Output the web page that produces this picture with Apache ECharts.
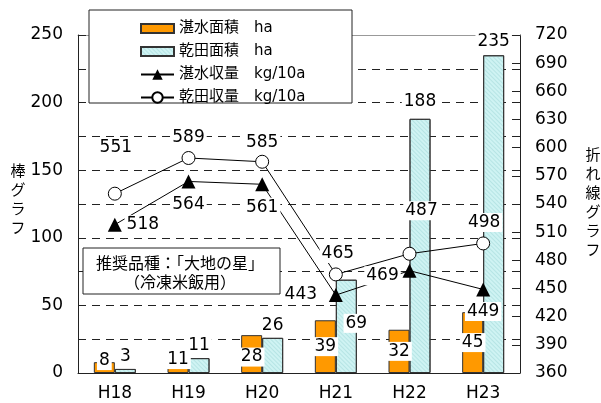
<!DOCTYPE html>
<html>
<head>
<meta charset="utf-8">
<script src="https://cdn.jsdelivr.net/npm/echarts@6/dist/echarts.min.js"></script>
<style>
  html, body { margin: 0; padding: 0; background: #fff; }
  #chart { width: 601px; height: 403px; }
</style>
</head>
<body>
<div id="chart"></div>
<script>
const categories = ['H18', 'H19', 'H20', 'H21', 'H22', 'H23']
const tansuiArea = [8, 11, 28, 39, 32, 45]
const kandenArea = [3, 11, 26, 69, 188, 235]
const tansuiYield = [518, 564, 561, 443, 469, 449]
const kandenYield = [551, 589, 585, 465, 487, 498]
const seriesNames = ['湛水面積　ha', '乾田面積　ha', '湛水収量　kg/10a', '乾田収量　kg/10a']
const barTicks = [0, 50, 100, 150, 200, 250]
const lineTicks = [360, 390, 420, 450, 480, 510, 540, 570, 600, 630, 660, 690, 720]

const FONT = 'Noto Sans CJK JP'
const NUM_FONT = '"DejaVu Sans", "Noto Sans CJK JP"'
const labelBase = {
  show: true,
  fontFamily: NUM_FONT,
  fontSize: 17,
  color: '#000',
  backgroundColor: '#fff',
  padding: [1, 2]
}

// label placement per point
const orangeOffsets = [[0, -7], [0, -6], [0, 3], [0, 0], [0, 0], [0, 0]]
const cyanPlace = [
  { position: 'top', distance: 3 },
  { position: 'top', distance: 3 },
  { position: 'top', distance: 3 },
  { position: 'inside', offset: [10, -3] },
  { position: 'top', distance: 8 },
  { position: 'top', distance: 4 }
]
const triOffsets = [[28, 0], [0, 23], [0, 23], [-35, 0], [-27, 5], [0, 22]]
const circOffsets = [[1, -46], [0, -20], [0, -19], [2, -21], [12, -43], [1, -21]]

const chart = echarts.init(document.getElementById('chart'))

chart.setOption({
  animation: false,
  textStyle: { fontFamily: FONT },
  grid: { left: 78, right: 81, top: 35, bottom: 30 },
  legend: {
    left: 135,
    top: 16,
    orient: 'vertical',
    itemWidth: 33,
    itemHeight: 13,
    itemGap: 8,
    z: 10,
    textStyle: { fontFamily: NUM_FONT, fontSize: 15, color: '#000' },
    data: [
      { name: seriesNames[0], icon: 'path://M0,0h33v9h-33z' },
      { name: seriesNames[1], icon: 'path://M0,0h33v9h-33z' },
      { name: seriesNames[2] },
      { name: seriesNames[3] }
    ]
  },
  graphic: [
    {
      type: 'rect', z: 9,
      shape: { x: 89, y: 10, width: 263, height: 93 },
      style: { fill: '#fff', stroke: '#222', lineWidth: 1 }
    },
    {
      type: 'rect', z: 9,
      shape: { x: 83, y: 248, width: 197, height: 46 },
      style: { fill: '#fff', stroke: '#222', lineWidth: 1 }
    },
    {
      type: 'text', z: 10, x: 180, y: 272,
      style: {
        text: '推奨品種：「大地の星」\n（冷凍米飯用）',
        fontFamily: FONT, fontSize: 16, lineHeight: 19, fill: '#000',
        align: 'center', verticalAlign: 'middle'
      }
    },
    {
      type: 'text', z: 10, x: 18, y: 199,
      style: {
        text: '棒\nグ\nラ\nフ',
        fontFamily: FONT, fontSize: 15, lineHeight: 19, fill: '#000',
        align: 'center', verticalAlign: 'middle'
      }
    },
    {
      type: 'text', z: 10, x: 593, y: 202,
      style: {
        text: '折\nれ\n線\nグ\nラ\nフ',
        fontFamily: FONT, fontSize: 15, lineHeight: 19, fill: '#000',
        align: 'center', verticalAlign: 'middle'
      }
    }
  ],
  xAxis: [
    {
      type: 'category',
      data: categories,
      axisLine: { lineStyle: { color: '#222', width: 1 } },
      axisTick: { inside: true, length: 7, lineStyle: { color: '#222' } },
      axisLabel: { fontFamily: NUM_FONT, fontSize: 17, color: '#000', margin: 12 }
    },
    {
      type: 'category',
      data: categories,
      position: 'top',
      axisLine: { lineStyle: { color: '#999', width: 1 } },
      axisTick: { show: false },
      axisLabel: { show: false }
    }
  ],
  yAxis: [
    {
      type: 'value',
      min: barTicks[0],
      max: barTicks[barTicks.length - 1],
      interval: (barTicks[1] - barTicks[0]) / 2,
      axisLine: { show: true, lineStyle: { color: '#222', width: 1 } },
      axisTick: { show: true, inside: true, length: 8, lineStyle: { color: '#222' } },
      axisLabel: {
        fontFamily: NUM_FONT, fontSize: 17, color: '#000', margin: 15,
        formatter: v => (barTicks.includes(v) ? String(v) : '')
      },
      splitLine: {
        show: true,
        showMinLine: false,
        showMaxLine: false,
        lineStyle: { color: '#222', width: 1, type: [8, 6] }
      }
    },
    {
      type: 'value',
      min: lineTicks[0],
      max: lineTicks[lineTicks.length - 1],
      interval: lineTicks[1] - lineTicks[0],
      axisLine: { show: true, lineStyle: { color: '#222', width: 1 } },
      axisTick: { show: true, inside: true, length: 8, lineStyle: { color: '#222' } },
      axisLabel: { fontFamily: NUM_FONT, fontSize: 17, color: '#000', margin: 15 },
      splitLine: { show: false }
    }
  ],
  series: [
    {
      name: seriesNames[0],
      type: 'bar',
      barWidth: 21,
      barGap: '0%',
      itemStyle: { color: '#ff9900', borderColor: '#333', borderWidth: 1 },
      label: { ...labelBase, position: 'inside' },
      data: tansuiArea.map((v, i) => ({ value: v, label: { offset: orangeOffsets[i] } }))
    },
    {
      name: seriesNames[1],
      type: 'bar',
      barWidth: 21,
      itemStyle: {
        color: '#cff3f3',
        borderColor: '#333',
        borderWidth: 1,
        decal: {
          symbol: 'rect',
          symbolSize: 1,
          color: 'rgba(150,210,210,0.45)',
          dashArrayX: [1, 0],
          dashArrayY: [1, 2],
          rotation: Math.PI / 4
        }
      },
      label: { ...labelBase },
      data: kandenArea.map((v, i) => ({ value: v, label: cyanPlace[i] }))
    },
    {
      name: seriesNames[2],
      type: 'line',
      yAxisIndex: 1,
      symbol: 'triangle',
      symbolSize: 14,
      itemStyle: { color: '#000' },
      lineStyle: { color: '#000', width: 1 },
      label: { ...labelBase, position: 'inside' },
      data: tansuiYield.map((v, i) => ({ value: v, label: { offset: triOffsets[i] } }))
    },
    {
      name: seriesNames[3],
      type: 'line',
      yAxisIndex: 1,
      symbol: 'circle',
      symbolSize: 13,
      itemStyle: { color: '#fff', borderColor: '#000', borderWidth: 1 },
      lineStyle: { color: '#000', width: 1 },
      label: { ...labelBase, position: 'inside' },
      data: kandenYield.map((v, i) => ({ value: v, label: { offset: circOffsets[i] } }))
    }
  ]
})
</script>
</body>
</html>
